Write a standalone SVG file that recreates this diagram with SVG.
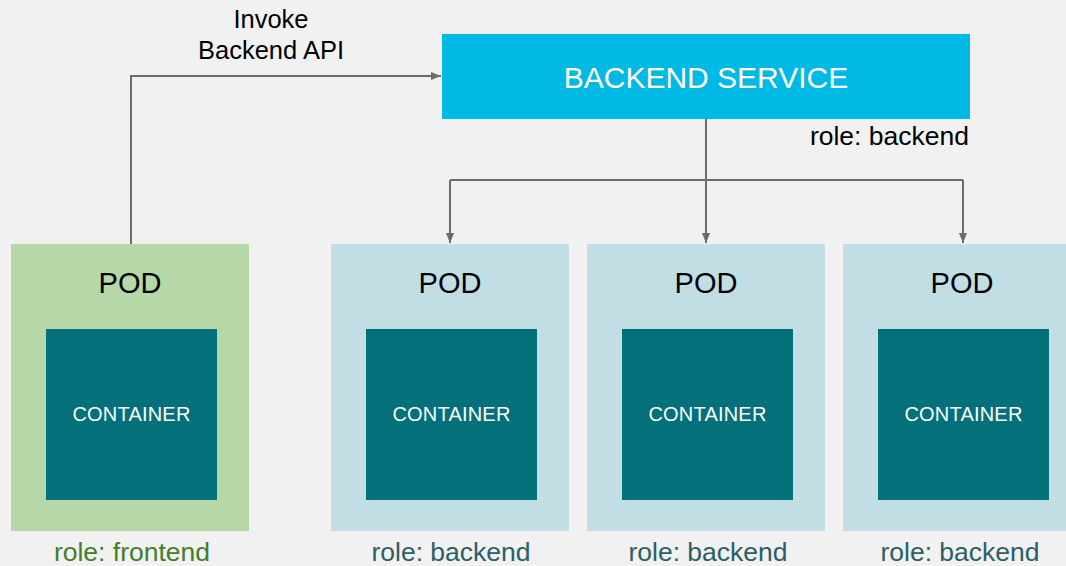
<svg xmlns="http://www.w3.org/2000/svg" width="1066" height="566" viewBox="0 0 1066 566">
  <defs>
    <marker id="arrow" viewBox="0 0 10 10" refX="10" refY="5" markerWidth="10" markerHeight="10" markerUnits="userSpaceOnUse" orient="auto">
      <path d="M0,1 L10,5 L0,9 z" fill="#6b6b6b"/>
    </marker>
    <style>
      text { font-family: "Liberation Sans", "DejaVu Sans", sans-serif; text-anchor: middle; }
      .pod-front { fill: #b6d8a8; }
      .pod-back { fill: #c0dee4; }
      .container { fill: #03707a; }
      .pod-label { font-size: 29px; fill: #000; }
      .ctr-label { font-size: 20px; fill: #fff; letter-spacing: 0.2px; }
      .role-front { font-size: 26.5px; fill: #3f7f2a; }
      .role-back { font-size: 26.5px; fill: #2a5f66; }
      .conn { fill: none; stroke: #6b6b6b; stroke-width: 2; }
    </style>
  </defs>

  <rect x="0" y="0" width="1066" height="566" fill="#f1f1f1"/>

  <!-- connectors -->
  <g id="connectors">
    <path class="conn" d="M131,244 V76 H441" marker-end="url(#arrow)"/>
    <path class="conn" d="M706,119 V243" marker-end="url(#arrow)"/>
    <path class="conn" d="M450,180 H963"/>
    <path class="conn" d="M450,180 V243" marker-end="url(#arrow)"/>
    <path class="conn" d="M963,180 V243" marker-end="url(#arrow)"/>
    <text x="271" y="28" font-size="25.5" fill="#000">Invoke</text>
    <text x="271" y="59" font-size="25.5" fill="#000">Backend API</text>
  </g>

  <!-- service -->
  <g id="backend-service">
    <rect x="442" y="34" width="528" height="85" fill="#00b9e4"/>
    <text x="706" y="88" font-size="30" fill="#fff">BACKEND SERVICE</text>
    <text x="969" y="145" font-size="26.5" fill="#000" style="text-anchor:end">role: backend</text>
  </g>

  <!-- frontend pod -->
  <g id="pod-frontend">
    <rect class="pod-front" x="11" y="244" width="238" height="287"/>
    <text class="pod-label" x="130" y="293">POD</text>
    <rect class="container" x="46" y="329" width="171" height="171"/>
    <text class="ctr-label" x="131.5" y="421">CONTAINER</text>
    <text class="role-front" x="132" y="561">role: frontend</text>
  </g>

  <!-- backend pods -->
  <g id="pod-backend-1">
    <rect class="pod-back" x="331" y="244" width="238" height="287"/>
    <text class="pod-label" x="450" y="293">POD</text>
    <rect class="container" x="366" y="329" width="171" height="171"/>
    <text class="ctr-label" x="451.5" y="421">CONTAINER</text>
    <text class="role-back" x="451" y="561">role: backend</text>
  </g>

  <g id="pod-backend-2">
    <rect class="pod-back" x="587" y="244" width="238" height="287"/>
    <text class="pod-label" x="706" y="293">POD</text>
    <rect class="container" x="622" y="329" width="171" height="171"/>
    <text class="ctr-label" x="707.5" y="421">CONTAINER</text>
    <text class="role-back" x="708" y="561">role: backend</text>
  </g>

  <g id="pod-backend-3">
    <rect class="pod-back" x="843" y="244" width="238" height="287"/>
    <text class="pod-label" x="962" y="293">POD</text>
    <rect class="container" x="878" y="329" width="171" height="171"/>
    <text class="ctr-label" x="963.5" y="421">CONTAINER</text>
    <text class="role-back" x="960" y="561">role: backend</text>
  </g>
</svg>
